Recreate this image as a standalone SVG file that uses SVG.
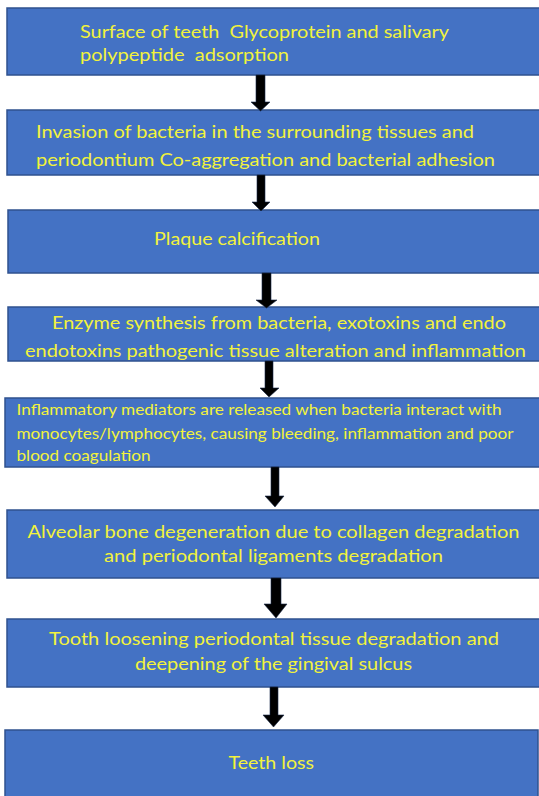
<svg xmlns="http://www.w3.org/2000/svg" width="539" height="796" viewBox="0 0 539 796" xml:space="preserve">
<style>
.box{fill:#4472C4;stroke:#2F528F;stroke-width:1.5}
.t{font-family:Lato,"Open Sans","Liberation Sans",sans-serif;font-size:17px;fill:#F2F23C;white-space:pre}
.s{font-size:15px}
.arr{fill:#000;stroke:#1a2a4a;stroke-width:0.6}
</style>
<rect width="539" height="796" fill="#fff"/>
<g id="node1">
<rect class="box" x="7" y="8" width="540" height="67"/>
<text class="t" x="80" y="38" textLength="369" lengthAdjust="spacingAndGlyphs">Surface of teeth  Glycoprotein and salivary</text>
<text class="t" x="80" y="61" textLength="209" lengthAdjust="spacingAndGlyphs">polypeptide  adsorption</text>
</g>
<g id="node2">
<rect class="box" x="7" y="110" width="540" height="65"/>
<text class="t" x="36" y="138" textLength="438" lengthAdjust="spacingAndGlyphs">Invasion of bacteria in the surrounding tissues and</text>
<text class="t" x="36" y="166" textLength="459" lengthAdjust="spacingAndGlyphs">periodontium Co-aggregation and bacterial adhesion</text>
</g>
<g id="node3">
<rect class="box" x="8" y="210" width="540" height="63"/>
<text class="t" x="154" y="245" textLength="166" lengthAdjust="spacingAndGlyphs">Plaque calcification</text>
</g>
<g id="node4">
<rect class="box" x="8" y="307" width="540" height="54"/>
<text class="t" x="52" y="329" textLength="454" lengthAdjust="spacingAndGlyphs">Enzyme synthesis from bacteria, exotoxins and endo</text>
<text class="t" x="25" y="357" textLength="501" lengthAdjust="spacingAndGlyphs">endotoxins pathogenic tissue alteration and inflammation</text>
</g>
<g id="node5">
<rect class="box" x="5" y="398" width="540" height="69"/>
<text class="t s" x="16.5" y="415" textLength="485" lengthAdjust="spacingAndGlyphs">Inflammatory mediators are released when bacteria interact with</text>
<text class="t s" x="16.5" y="439" textLength="497" lengthAdjust="spacingAndGlyphs">monocytes/lymphocytes, causing bleeding, inflammation and poor</text>
<text class="t s" x="16.5" y="461" textLength="134" lengthAdjust="spacingAndGlyphs">blood coagulation</text>
</g>
<g id="node6">
<rect class="box" x="7" y="510" width="540" height="68"/>
<text class="t" x="27.5" y="538" textLength="492" lengthAdjust="spacingAndGlyphs">Alveolar bone degeneration due to collagen degradation</text>
<text class="t" x="104" y="562" textLength="339" lengthAdjust="spacingAndGlyphs">and periodontal ligaments degradation</text>
</g>
<g id="node7">
<rect class="box" x="7" y="619" width="540" height="68"/>
<text class="t" x="49" y="645" textLength="450" lengthAdjust="spacingAndGlyphs">Tooth loosening periodontal tissue degradation and</text>
<text class="t" x="135" y="670" textLength="277" lengthAdjust="spacingAndGlyphs">deepening of the gingival sulcus</text>
</g>
<g id="node8">
<rect class="box" x="5" y="730" width="533" height="80"/>
<text class="t" x="228.5" y="769" textLength="85.5" lengthAdjust="spacingAndGlyphs">Teeth loss</text>
</g>
<g id="connectors">
<polygon class="arr" points="256,75 265,75 265,102 270,102 260.5,111 251,102 256,102"/>
<polygon class="arr" points="257,175 265,175 265,202 270,202 261,211 252,202 257,202"/>
<polygon class="arr" points="262,273 271,273 271,300 277,300 266.5,308 256,300 262,300"/>
<polygon class="arr" points="265,361 273,361 273,388 279,388 269,397 260,388 265,388"/>
<polygon class="arr" points="271,467 279,467 279,496 284,496 275,507 265,496 271,496"/>
<polygon class="arr" points="271,578 281,578 281,604 287,604 276,618 264,604 271,604"/>
<polygon class="arr" points="270,687 278,687 278,715 284,715 273.5,727 263,715 270,715"/>
</g>
</svg>
